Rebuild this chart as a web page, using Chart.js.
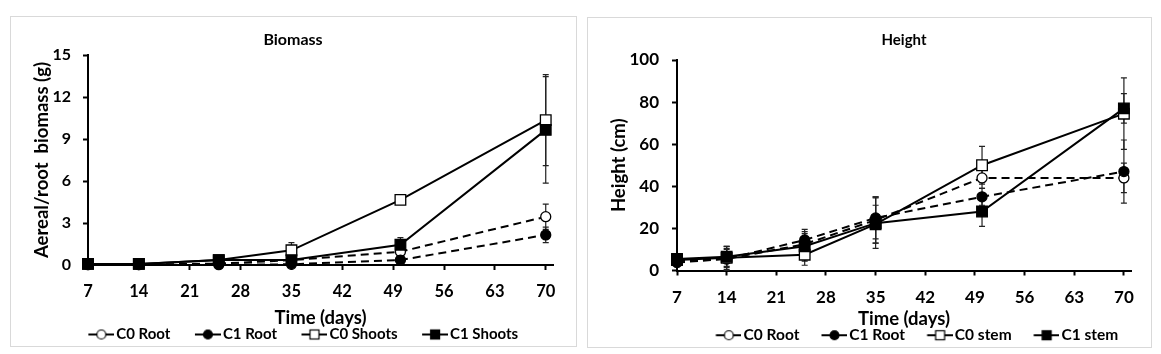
<!DOCTYPE html>
<html>
<head>
<meta charset="utf-8">
<script src="https://cdn.jsdelivr.net/npm/chart.js@4.4.1/dist/chart.umd.min.js"></script>
<style>
  body { margin: 0; width: 1161px; height: 354px; background: #fff; position: relative; overflow: hidden; }
  .frame { position: absolute; border: 1px solid #d9d9d9; box-sizing: border-box; }
  .plot { position: absolute; }
</style>
</head>
<body>
<div class="frame" style="left:10px;top:16px;width:567px;height:331px;"></div>
<div class="frame" style="left:587px;top:17px;width:565px;height:331px;"></div>
<div class="plot" style="left:11px;top:17px;width:564px;height:335px;"><canvas id="biomassChart"></canvas></div>
<div class="plot" style="left:588px;top:18px;width:562px;height:335px;"><canvas id="heightChart"></canvas></div>

<script>
const days = [7, 14, 25, 35, 50, 70];
const dayTicks = [7, 14, 21, 28, 35, 42, 49, 56, 63, 70];
const biomassTicks = [0, 3, 6, 9, 12, 15];
const heightTicks = [0, 20, 40, 60, 80, 100];

// biomass (g)
const c0RootBiomass = [0.03, 0.03, 0.1, 0.35, 0.95, 3.45];
const c0RootBiomassErr = [0.02, 0.02, 0.05, 0.1, 0.2, 0.9];
const c1RootBiomass = [0.02, 0.02, 0.02, 0.05, 0.35, 2.15];
const c1RootBiomassErr = [0.02, 0.02, 0.02, 0.05, 0.1, 0.55];
const c0ShootsBiomass = [0.08, 0.08, 0.35, 1.05, 4.65, 10.35];
const c0ShootsBiomassErr = [0.02, 0.02, 0.1, 0.55, 0.15, 3.25];
const c1ShootsBiomass = [0.08, 0.08, 0.35, 0.35, 1.45, 9.65];
const c1ShootsBiomassErr = [0.02, 0.02, 0.1, 0.1, 0.5, 3.8];

// height (cm)
const c0RootHeight = [4.5, 5.5, 12.5, 24, 44, 44];
const c0RootHeightErr = [2, 6, 5, 11, 5, 7];
const c1RootHeight = [3.8, 5.5, 14.5, 25, 35, 47];
const c1RootHeightErr = [2, 5, 5, 10, 4, 15];
const c0StemHeight = [5, 6, 7.5, 22, 50, 74.5];
const c0StemHeightErr = [2, 4, 5, 9, 9, 17];
const c1StemHeight = [5.5, 6.5, 11.5, 22.5, 28, 77];
const c1StemHeightErr = [2, 5, 7, 12, 7, 7];

Chart.defaults.font.family = 'Lato';
Chart.defaults.font.weight = 'bold';
Chart.defaults.color = '#000';

// legend picture: short line with the marker, sitting at the right end of the image
function makeIcon(shape, filled, w) {
    const c = document.createElement('canvas');
    c.width = w;
    c.height = 14;
    const g = c.getContext('2d');
    const x0 = w - 26;
    const mid = x0 + 13;
    g.strokeStyle = '#000';
    g.lineWidth = 2;
    g.beginPath();
    g.moveTo(x0, 7);
    g.lineTo(w, 7);
    g.stroke();
    g.fillStyle = filled ? '#000' : '#fff';
    g.lineWidth = 1.2;
    if (shape === 'circle') {
        g.beginPath();
        g.arc(mid, 7, 4.5, 0, Math.PI * 2);
        g.fill();
        g.stroke();
    } else {
        g.fillRect(mid - 4.5, 2.5, 9, 9);
        g.strokeRect(mid - 4.5, 2.5, 9, 9);
    }
    return c;
}

function series(label, values, errors, shape, filled, dashed, order) {
    return {
        label: label,
        data: values.map((v, i) => ({ x: days[i], y: v })),
        errors: errors,
        shape: shape,
        filled: filled,
        borderColor: '#000',
        borderWidth: 2,
        borderDash: dashed ? [8, 5] : [],
        pointStyle: shape,
        pointRadius: shape === 'rect' ? 7.5 : 5,
        pointBorderWidth: 1.3,
        pointBorderColor: '#000',
        pointBackgroundColor: filled ? '#000' : '#fff',
        fill: false,
        tension: 0,
        clip: false,
        order: order
    };
}

// error bars drawn under the markers
const errorBars = {
    id: 'errorBars',
    beforeDatasetsDraw(chart) {
        const ctx = chart.ctx;
        const yScale = chart.scales.y;
        ctx.save();
        ctx.strokeStyle = '#222';
        ctx.lineWidth = 1.2;
        chart.data.datasets.forEach((ds, i) => {
            const meta = chart.getDatasetMeta(i);
            meta.data.forEach((pt, j) => {
                const v = ds.data[j].y;
                const e = ds.errors[j];
                const top = yScale.getPixelForValue(v + e);
                const bot = yScale.getPixelForValue(Math.max(v - e, 0));
                ctx.beginPath();
                ctx.moveTo(pt.x, top);
                ctx.lineTo(pt.x, bot);
                ctx.moveTo(pt.x - 3, top);
                ctx.lineTo(pt.x + 3, top);
                ctx.moveTo(pt.x - 3, bot);
                ctx.lineTo(pt.x + 3, bot);
                ctx.stroke();
            });
        });
        ctx.restore();
    }
};

// nudge the legend sideways after layout
const legendShift = {
    id: 'legendShift',
    afterLayout(chart, args, options) {
        chart.legend.left += options.dx || 0;
        chart.legend.right += options.dx || 0;
    }
};

function axisGrid() {
    return { drawOnChartArea: false, tickLength: 5, tickWidth: 2, tickColor: '#000' };
}

function buildChart(canvasId, opts) {
    const iconW = opts.legendBox + opts.legendSize - 4;
    opts.datasets.forEach(ds => { ds.icon = makeIcon(ds.shape, ds.filled, iconW); });

    const ctx = document.getElementById(canvasId).getContext('2d');
    return new Chart(ctx, {
        type: 'line',
        data: { datasets: opts.datasets },
        plugins: [errorBars, legendShift],
        options: {
            responsive: true,
            maintainAspectRatio: false,
            devicePixelRatio: 1,
            animation: false,
            layout: { padding: 0 },
            plugins: {
                tooltip: { enabled: false },
                legendShift: { dx: opts.legendShift },
                title: {
                    display: true,
                    text: opts.title,
                    fullSize: opts.titleFull,
                    font: { size: opts.titleSize, weight: 'bold' },
                    padding: opts.titlePadding
                },
                legend: {
                    position: 'bottom',
                    fullSize: true,
                    labels: {
                        usePointStyle: true,
                        pointStyleWidth: opts.legendBox,
                        padding: 4,
                        font: { size: opts.legendSize, weight: 'bold' },
                        sort: (a, b) => a.datasetIndex - b.datasetIndex,
                        generateLabels: chart => Chart.defaults.plugins.legend.labels.generateLabels(chart).map(item => {
                            item.pointStyle = chart.data.datasets[item.datasetIndex].icon;
                            return item;
                        })
                    }
                }
            },
            scales: {
                x: {
                    type: 'linear',
                    min: dayTicks[0],
                    max: 71,
                    afterBuildTicks: s => { s.ticks = dayTicks.map(v => ({ value: v })); },
                    grid: axisGrid(),
                    border: { color: '#000', width: 2 },
                    ticks: { padding: 12, maxRotation: 0, autoSkip: false, font: { size: opts.xTickSize, weight: 'bold' } },
                    title: {
                        display: true,
                        text: 'Time (days)',
                        font: { size: 18.5, weight: 'bold' },
                        padding: { top: 0, bottom: opts.xTitlePad }
                    },
                    afterFit: s => { s.height = opts.xHeight; }
                },
                y: {
                    min: opts.yTicks[0],
                    max: opts.yTicks[opts.yTicks.length - 1],
                    afterBuildTicks: s => { s.ticks = opts.yTicks.map(v => ({ value: v })); },
                    grid: axisGrid(),
                    border: { color: '#000', width: 2 },
                    ticks: { padding: opts.yTickPad, font: { size: opts.yTickSize, weight: 'bold' } },
                    title: {
                        display: true,
                        text: opts.yTitle,
                        font: { size: 18.5, weight: 'bold' },
                        padding: { top: opts.yTitlePad, bottom: 0 }
                    },
                    afterFit: s => { s.width = opts.yWidth; }
                },
                yPad: {
                    position: 'right',
                    display: true,
                    grid: { display: false },
                    ticks: { display: false },
                    border: { display: false },
                    afterFit: s => { s.width = opts.rightGap; }
                }
            }
        }
    });
}

buildChart('biomassChart', {
    title: 'Biomass',
    titleSize: 16,
    titleFull: true,
    titlePadding: { top: 13.5, bottom: 5.3 },
    yTicks: biomassTicks,
    yTickSize: 16,
    xTickSize: 16.5,
    yTitle: 'Aereal/root  biomass (g)',
    yTitlePad: 20,
    yTickPad: 12,
    yWidth: 77,
    rightGap: 22,
    xHeight: 58,
    xTitlePad: -6.5,
    legendSize: 15,
    legendBox: 41,
    legendShift: 0,
    datasets: [
        series('C0 Root', c0RootBiomass, c0RootBiomassErr, 'circle', false, true, 3),
        series('C1 Root', c1RootBiomass, c1RootBiomassErr, 'circle', true, true, 2),
        series('C0 Shoots', c0ShootsBiomass, c0ShootsBiomassErr, 'rect', false, false, 1),
        series('C1 Shoots', c1ShootsBiomass, c1ShootsBiomassErr, 'rect', true, false, 0)
    ]
});

buildChart('heightChart', {
    title: 'Height',
    titleSize: 15,
    titleFull: false,
    titlePadding: { top: 13, bottom: 11 },
    yTicks: heightTicks,
    yTickSize: 17,
    xTickSize: 17,
    yTitle: 'Height (cm)',
    yTitlePad: 20,
    yTickPad: 13,
    yWidth: 89,
    rightGap: 19,
    xHeight: 53,
    xTitlePad: -6.5,
    legendSize: 15.5,
    legendBox: 38,
    legendShift: 39,
    datasets: [
        series('C0 Root', c0RootHeight, c0RootHeightErr, 'circle', false, true, 3),
        series('C1 Root', c1RootHeight, c1RootHeightErr, 'circle', true, true, 2),
        series('C0 stem', c0StemHeight, c0StemHeightErr, 'rect', false, false, 1),
        series('C1 stem', c1StemHeight, c1StemHeightErr, 'rect', true, false, 0)
    ]
});
</script>
</body>
</html>
